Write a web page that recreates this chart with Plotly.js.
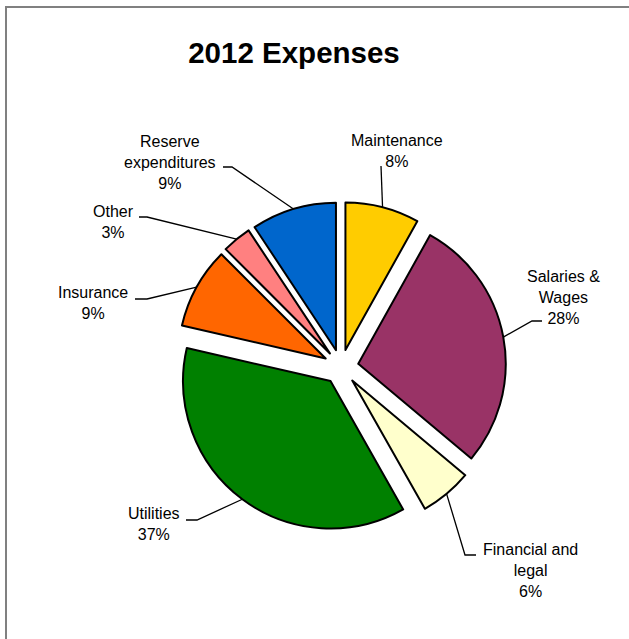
<!DOCTYPE html>
<html><head><meta charset="utf-8">
<script src="https://cdn.plot.ly/plotly-3.0.1.min.js"></script>
<style>html,body{margin:0;padding:0;background:#fff}#chart{width:629px;height:639px}</style>
</head><body><div id="chart"></div>
<script>
// ---- data ----
const categories = ['Maintenance', 'Salaries & Wages', 'Financial and legal', 'Utilities', 'Insurance', 'Other', 'Reserve expenditures'];
const values = [8.1, 28.0, 5.7, 36.8, 8.9, 3.2, 9.3];
const labelLines = [['Maintenance'], ['Salaries &', 'Wages'], ['Financial and', 'legal'], ['Utilities'], ['Insurance'], ['Other'], ['Reserve', 'expenditures']];
const chartTitle = '2012 Expenses';

// ---- style ----
const colors = ['#FFCC00', '#993366', '#FFFFCC', '#008000', '#FF6600', '#FF8080', '#0066CC'];
const W = 629, H = 639;
const pieDomain = {x: [0.2798, 0.8045], y: [0.1674, 0.6839]};
const pull = 0.119;
// label text centre (px) and leader elbow / end (px), per slice
const labelPos = [
  {tx: 397, ty: 151, elbow: [381, 166], end: [381, 166]},
  {tx: 563, ty: 297, elbow: [532, 321], end: [542, 321]},
  {tx: 530, ty: 570, elbow: [465, 555], end: [476, 555]},
  {tx: 154, ty: 524, elbow: [197, 520], end: [186, 520]},
  {tx: 93,  ty: 303, elbow: [147, 299], end: [135, 299]},
  {tx: 113, ty: 222, elbow: [147, 217], end: [139, 217]},
  {tx: 170, ty: 162, elbow: [232, 167], end: [223, 167]}
];
const textFont = {family: 'Arial, "Liberation Sans", sans-serif', size: 16, color: '#000'};

const total = values.reduce((a, b) => a + b, 0);
const cx = (pieDomain.x[0] + pieDomain.x[1]) / 2 * W;
const cy = (1 - (pieDomain.y[0] + pieDomain.y[1]) / 2) * H;
const r = Math.min((pieDomain.x[1] - pieDomain.x[0]) * W, (pieDomain.y[1] - pieDomain.y[0]) * H) / (2 * (1 + pull));
const px2x = p => p / W, py2y = p => 1 - p / H;

const annotations = [];
const shapes = [];
let cum = 0;
values.forEach((v, i) => {
  const mid = (cum + v / 2) / total * 2 * Math.PI;
  cum += v;
  const R = r * (1 + pull);
  const ax = cx + R * Math.sin(mid), ay = cy - R * Math.cos(mid);
  const lp = labelPos[i];
  const pct = Math.round(v / total * 100) + '%';
  annotations.push({
    xref: 'paper', yref: 'paper', x: px2x(lp.tx), y: py2y(lp.ty),
    xanchor: 'center', yanchor: 'middle', align: 'center', showarrow: false,
    text: labelLines[i].concat([pct]).join('<br>'), font: textFont
  });
  shapes.push({
    type: 'path', xref: 'paper', yref: 'paper',
    path: `M ${px2x(ax)} ${py2y(ay)} L ${px2x(lp.elbow[0])} ${py2y(lp.elbow[1])} L ${px2x(lp.end[0])} ${py2y(lp.end[1])}`,
    line: {color: '#000', width: 1.3}
  });
});
shapes.push({type: 'rect', xref: 'paper', yref: 'paper', x0: px2x(6), y0: -0.1, x1: 1.1, y1: py2y(7),
  line: {color: '#808080', width: 2}, fillcolor: 'rgba(0,0,0,0)', layer: 'above'});

const trace = {
  type: 'pie', labels: categories, values: values, sort: false, direction: 'clockwise', rotation: 0,
  pull: values.map(() => pull), domain: pieDomain, textinfo: 'none', hoverinfo: 'none',
  marker: {colors: colors, line: {color: '#000', width: 2}}, showlegend: false, automargin: false
};

const layout = {
  width: W, height: H, margin: {l: 0, r: 0, t: 0, b: 0},
  paper_bgcolor: '#fff', showlegend: false, hovermode: false,
  title: {text: '<b>' + chartTitle + '</b>', x: 294 / W, xanchor: 'center', y: 1 - 53 / H, yanchor: 'middle', yref: 'container',
    font: {family: 'Arial, "Liberation Sans", sans-serif', size: 29.5, color: '#000'}},
  annotations: annotations, shapes: shapes
};
Plotly.newPlot('chart', [trace], layout, {staticPlot: true, displayModeBar: false});
</script></body></html>
